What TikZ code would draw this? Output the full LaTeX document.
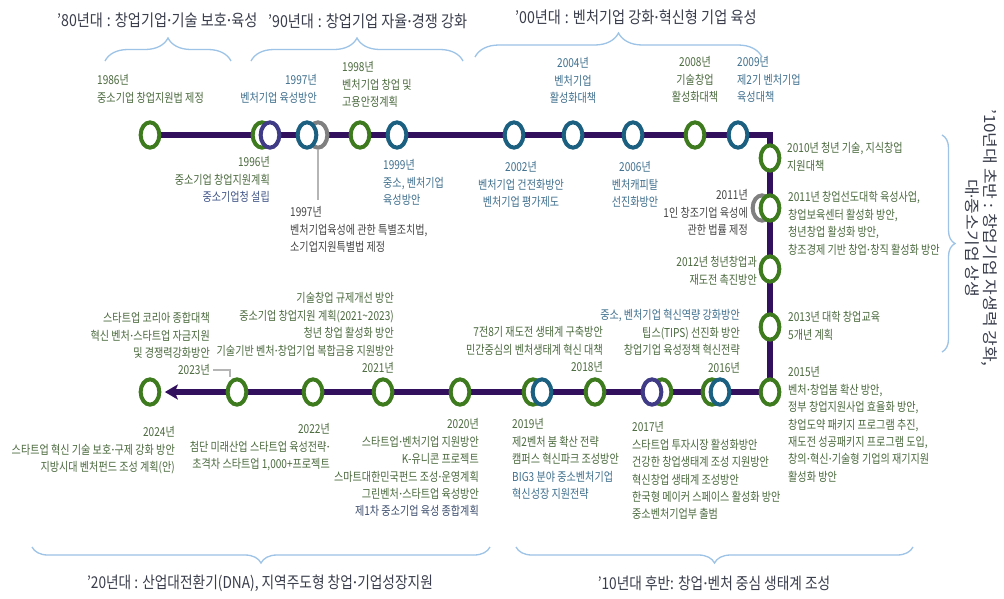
\documentclass[tikz,border=0pt]{standalone}
\usepackage{fontspec}
\newfontfamily\kr[FakeStretch=0.82]{Noto Sans CJK KR}
\newfontfamily\krh[FakeStretch=0.86]{Noto Sans CJK KR}
\newfontfamily\krb[FakeStretch=0.84]{Noto Sans CJK KR}
\newfontfamily\krv[FakeStretch=1.1]{Noto Sans CJK KR}
\newfontfamily\latn{Noto Sans}
\newcommand\mdot{{\latn ·}}
\usetikzlibrary{shapes.geometric,arrows.meta,decorations.pathreplacing,backgrounds}
\definecolor{cgrn}{HTML}{3E7B1F}
\definecolor{cteal}{HTML}{1B6080}
\definecolor{cind}{HTML}{3F3B86}
\definecolor{cgray}{HTML}{808080}
\definecolor{tgrn}{HTML}{4B6A3E}
\definecolor{tteal}{HTML}{40708E}
\definecolor{tdark}{HTML}{454545}
\definecolor{thead}{HTML}{3A3E4C}
\definecolor{tind}{HTML}{3F5487}
\definecolor{tblue}{HTML}{3D4E6E}
\definecolor{cline}{HTML}{33105E}
\definecolor{cbrace}{HTML}{9DC3E6}
\definecolor{clead}{HTML}{B5B5B5}
\tikzset{
  ring/.style={ellipse, draw, line width=4pt, fill=white, minimum width=18.7pt, minimum height=25.3pt, inner sep=0pt},
  rg/.style={ring, draw=cgrn}, rt/.style={ring, draw=cteal},
  ri/.style={ring, draw=cind}, ry/.style={ring, draw=cgray},
  lbl/.style={inner sep=0pt, font=\kr\fontsize{12.3}{17.4}\selectfont, text=tgrn},
  lL/.style={lbl, anchor=north west, align=left},
  lR/.style={lbl, anchor=north east, align=right},
  lC/.style={lbl, anchor=north, align=center},
  head/.style={inner sep=0pt, font=\krh\fontsize{16.5}{20}\selectfont, text=thead},
  bhead/.style={inner sep=0pt, font=\krb\fontsize{16.3}{20}\selectfont, text=thead},
  vhead/.style={inner sep=0pt, font=\krv\fontsize{15.5}{18}\selectfont, text=thead, rotate=-90, align=center},
  curly/.style={draw=cbrace, line width=1.3pt, decorate, decoration={brace, amplitude=#1}},
  mainline/.style={draw=cline, line width=5.5pt, line join=miter},
  leader/.style={draw=clead, line width=1.5pt},
}
\begin{document}
\begin{tikzpicture}[x=1pt,y=-1pt]
\useasboundingbox (0,0) rectangle (1004,598);
% headers
\node[head, anchor=west] (h80) at (57,20) {’80년대\hspace{4pt}:\hspace{4pt}창업기업\mdot 기술 보호\mdot 육성};
\node[head, anchor=west] (h90) at (268,21) {’90년대\hspace{4pt}:\hspace{4pt}창업기업 자율\mdot 경쟁 강화};
\node[head, anchor=west] (h00) at (515,17) {’00년대\hspace{4pt}:\hspace{4pt}벤처기업 강화\mdot 혁신형 기업 육성};
\node[vhead] (h10a) at (981,238) {’10년대 초반 : 창업기업 자생력 강화,\\대\mdot 중소기업 상생};
\node[bhead] (h20) at (260,583) {’20년대 : 산업대전환기(DNA), 지역주도형 창업\mdot 기업성장지원};
\node[bhead] (h10b) at (714,583) {’10년대 후반: 창업\mdot 벤처 중심 생태계 조성};
% braces
\draw[curly=23pt] (105,61) -- (231,61);
\draw[curly=23pt] (251,61) -- (463,61);
\draw[curly=24pt] (475,57) -- (762,57);
\draw[curly=13pt] (942,135) -- (942,352);
\draw[curly=16pt] (490,547) -- (32,547);
\draw[curly=16pt] (913,547) -- (516,547);
% rings
\node[rg] (c1986) at (150,135) {};
\node[rg] (c1996g) at (262,135) {};
\node[ri] (c1996i) at (270,135) {};
\node[ry] (c1997g) at (318,135) {};
\node[rt] (c1997t) at (307,135) {};
\node[rg] (c1998) at (360,135) {};
\node[rt] (c1999) at (397,135) {};
\node[rt] (c2002) at (514,135) {};
\node[rt] (c2004) at (573,135) {};
\node[rt] (c2006) at (633,135) {};
\node[rg] (c2008) at (695,135) {};
\node[rt] (c2009) at (738,135) {};
\coordinate (corner) at (770,135);
\node[rg] (c2010) at (770,158) {};
\node[ry] (c2011g) at (762,208) {};
\node[rg] (c2011) at (770,208) {};
\node[rg] (c2012) at (770,269) {};
\node[rg] (c2013) at (770,327) {};
\node[rg] (c2015) at (770,392) {};
\node[rg] (c2016g) at (712,392) {};
\node[rt] (c2016t) at (720,392) {};
\node[rg] (c2017g) at (662,392) {};
\node[ri] (c2017i) at (652,392) {};
\node[rg] (c2018) at (595,392) {};
\node[rg] (c2019g) at (533,392) {};
\node[rt] (c2019t) at (542,392) {};
\node[rg] (c2020) at (460,392) {};
\node[rg] (c2021) at (383,392) {};
\node[rg] (c2022) at (313,392) {};
\node[rg] (c2023) at (237,392) {};
\node[rg] (c2024) at (150,392) {};
% labels top row
\node[lL] (t1986) at (97,74.5) {1986년\\중소기업 창업지원법 제정};
\node[lR, text=tteal] (t1997a) at (317,74.5) {1997년\\벤처기업 육성방안};
\node[lL] (t1998) at (342,61.5) {1998년\\벤처기업 창업 및\\고용안정계획};
\node[lC, text=tteal] (t2004) at (573,57.5) {2004년\\벤처기업\\활성화대책};
\node[lC] (t2008) at (695,56.5) {2008년\\기술창업\\활성화대책};
\node[lL, text=tteal] (t2009) at (737,56.5) {2009년\\제2기 벤처기업\\육성대책};
\node[lR] (t1996) at (270,156.5) {1996년\\중소기업 창업지원계획\\\textcolor{tind}{중소기업청 설립}};
\node[lL, text=tdark] (t1997b) at (290,206.5) {1997년\\벤처기업육성에 관한 특별조치법,\\소기업지원특별법 제정};
\node[lL, text=tteal] (t1999) at (383,159.5) {1999년\\중소, 벤처기업\\육성방안};
\node[lC, text=tteal] (t2002) at (521,161.5) {2002년\\벤처기업 건전화방안\\벤처기업 평가제도};
\node[lC, text=tteal] (t2006) at (635,161.5) {2006년\\벤처캐피탈\\선진화방안};
% labels vertical
\node[lL] (t2010) at (787,142.5) {2010년 청년 기술, 지식창업\\지원대책};
\node[lR, text=tdark] (t2011a) at (748,189.5) {2011년\\1인 창조기업 육성에\\관한 법률 제정};
\node[lL] (t2011b) at (788,191.5) {2011년 창업선도대학 육성사업,\\창업보육센터 활성화 방안,\\청년창업 활성화 방안,\\창조경제 기반 창업\mdot 창직 활성화 방안};
\node[lR] (t2012) at (757,256.5) {2012년 청년창업과\\재도전 촉진방안};
\node[lL] (t2013) at (788,311.5) {2013년 대학 창업교육\\5개년 계획};
\node[lL] (t2015) at (788,366.5) {2015년\\벤처\mdot 창업붐 확산 방안,\\정부 창업지원사업 효율화 방안,\\창업도약 패키지 프로그램 추진,\\재도전 성공패키지 프로그램 도입,\\창의\mdot 혁신\mdot 기술형 기업의 재기지원\\활성화 방안};
% labels bottom row above
\node[lR] (t2016) at (740,309.5) {\textcolor{tteal}{중소, 벤처기업 혁신역량 강화방안}\\팁스(TIPS) 선진화 방안\\창업기업 육성정책 혁신전략\\2016년};
\node[lR] (t2018) at (603,326.5) {7전8기 재도전 생태계 구축방안\\민간중심의 벤처생태계 혁신 대책\\2018년};
\node[lR] (t2021) at (394,292.5) {기술창업 규제개선 방안\\중소기업 창업지원 계획(2021\textasciitilde2023)\\청년 창업 활성화 방안\\기술기반 벤처\mdot 창업기업 복합금융 지원방안\\2021년};
\node[lR] (t2023) at (210,312.5) {스타트업 코리아 종합대책\\혁신 벤처\mdot 스타트업 자금지원\\및 경쟁력강화방안};
\node[lbl, anchor=east] (y2023) at (210,370) {2023년};
% labels bottom row below
\node[lR] (t2024) at (175,426.5) {2024년\\스타트업 혁신 기술 보호\mdot 구제 강화 방안\\지방시대 벤처펀드 조성 계획(안)};
\node[lR] (t2022) at (330,423.5) {2022년\\첨단 미래산업 스타트업 육성전략\mdot\\초격차 스타트업 1,000+프로젝트};
\node[lR] (t2020) at (479,418.5) {2020년\\스타트업\mdot 벤처기업 지원방안\\K-유니콘 프로젝트\\스마트대한민국펀드 조성\mdot 운영계획\\그린벤처\mdot 스타트업 육성방안\\\textcolor{tblue}{제1차 중소기업 육성 종합계획}};
\node[lL] (t2019) at (512,418.5) {2019년\\제2벤처 붐 확산 전략\\캠퍼스 혁신파크 조성방안\\\textcolor{tteal}{BIG3 분야 중소벤처기업}\\\textcolor{tteal}{혁신성장 지원전략}};
\node[lL] (t2017) at (632,421.5) {2017년\\스타트업 투자시장 활성화방안\\건강한 창업생태계 조성 지원방안\\혁신창업 생태계 조성방안\\한국형 메이커 스페이스 활성화 방안\\중소벤처기업부 출범};
% lines behind
\begin{scope}[on background layer]
\fill[white] (0,0) rectangle (1004,598);
\draw[mainline, -{Stealth[length=13pt, width=15pt, inset=3pt]}] (c1986.center) -- (corner) -- (c2015.center) -- ([xshift=3.5pt]c2024.east);
\coordinate (lead97) at (318,200);
\draw[leader] (c1997g.south) -- (lead97);
\draw[leader] ([xshift=3pt]y2023.east) -| ([xshift=-7pt]c2023.north);
\end{scope}
\end{tikzpicture}
\end{document}
